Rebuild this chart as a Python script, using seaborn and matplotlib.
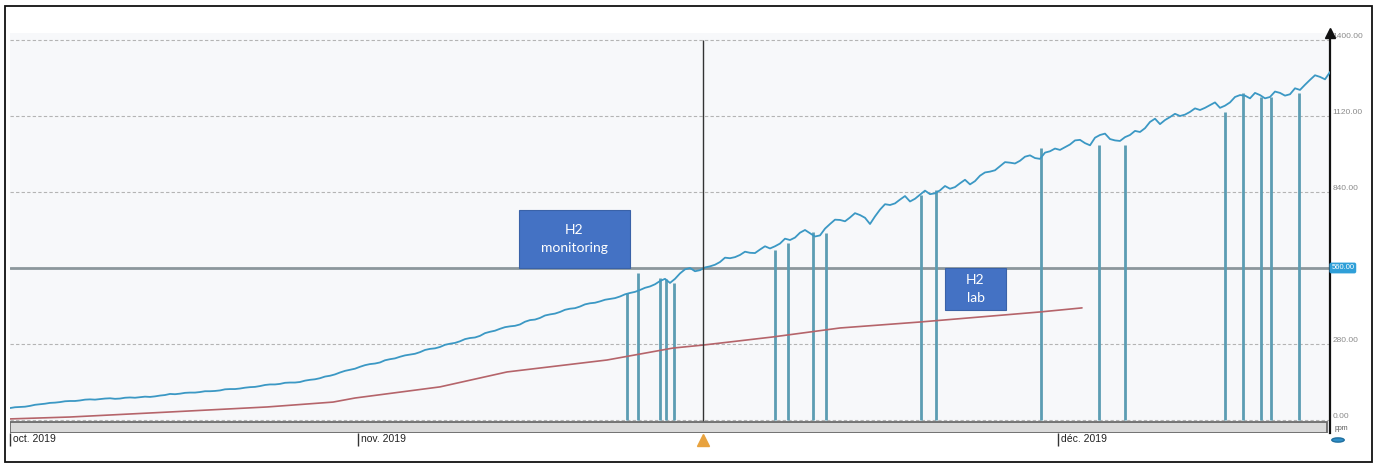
import matplotlib
matplotlib.use("Agg")
import matplotlib.pyplot as plt
import matplotlib.patches as mpatches
from matplotlib.transforms import ScaledTranslation
import numpy as np
import pandas as pd
import seaborn as sns

# ---------------- data (time axis in arbitrary units, values in ppm) ----------------
# H2 monitoring, readings on the 10-unit grid
monitor_t_a = list(range(0, 1330, 10))
monitor_ppm_a = [44, 48, 52, 58, 63, 66, 70, 72, 76, 77, 80, 79, 83, 84, 85, 90, 96, 97, 101, 103,
                 106, 109, 114, 116, 121, 125, 131, 133, 138, 140, 148, 154, 163, 175, 185, 196, 206,
                 212, 224, 233, 241, 250, 262, 269, 281, 290, 302, 310, 325, 336, 345, 352, 368, 376,
                 389, 398, 410, 418, 430, 437, 446, 455, 468, 479, 492, 512, 505, 540, 560, 552, 566,
                 582, 596, 608, 616, 628, 632, 650, 663, 690, 688, 680, 722, 737, 746, 755, 722, 775,
                 792, 812, 805, 830, 832, 846, 852, 872, 868, 900, 915, 935, 948, 955, 975, 962, 990,
                 995, 1015, 1032, 1012, 1050, 1035, 1028, 1050, 1061, 1098, 1090, 1116, 1120, 1135,
                 1142, 1160, 1150, 1170, 1197, 1185, 1197, 1190, 1205, 1200, 1216, 1253, 1264, 1282]
# H2 monitoring, readings in between
monitor_t_b = list(range(5, 1320, 10))
monitor_ppm_b = [47, 49, 56, 60, 64, 69, 70, 75, 75, 79, 78, 82, 82, 86, 87, 92, 95, 100, 101, 106,
                 107, 113, 114, 119, 122, 129, 131, 137, 138, 145, 150, 160, 168, 181, 189, 202, 208,
                 220, 227, 238, 244, 258, 264, 277, 284, 298, 304, 320, 329, 342, 347, 362, 370, 385,
                 392, 406, 412, 426, 432, 443, 449, 463, 472, 487, 500, 520, 520, 555, 548, 562, 572,
                 598, 600, 620, 615, 640, 640, 668, 672, 700, 676, 705, 738, 732, 762, 745, 750, 795,
                 798, 825, 815, 845, 835, 862, 858, 885, 880, 912, 920, 950, 945, 970, 965, 985, 1000,
                 1005, 1030, 1020, 1040, 1055, 1030, 1042, 1065, 1075, 1110, 1105, 1128, 1125, 1148,
                 1150, 1170, 1158, 1190, 1195, 1205, 1185, 1210, 1195, 1222, 1235, 1270, 1255]

lab_t = [0, 60, 157, 257, 323, 345, 430, 497, 597, 663, 693, 763, 830, 910, 1030, 1072]
lab_ppm = [4, 11, 29, 48, 66, 81, 122, 177, 221, 265, 276, 306, 339, 361, 398, 413]

drop_t = [617, 628, 650, 656, 664, 765, 778, 803, 816, 911, 926, 1031, 1089, 1115, 1215, 1233,
          1251, 1261, 1289]
drop_top = [468, 541, 523, 519, 505, 626, 652, 693, 689, 829, 847, 1002, 1013, 1013, 1135, 1205,
            1190, 1190, 1205]

y_ticks = [0, 280, 560, 840, 1120, 1400]
y_tick_labels = ["0.00", "280.00", "", "840.00", "1120.00", "1400.00"]
x_ticks = [0, 348, 1048]
x_tick_labels = ["oct. 2019", "nov. 2019", "déc. 2019"]
threshold_ppm = 560
threshold_label = "560.00"
cursor_t = 693

df_mon = pd.DataFrame({"t": monitor_t_a + monitor_t_b,
                       "ppm": monitor_ppm_a + monitor_ppm_b}).sort_values("t")
df_lab = pd.DataFrame({"t": lab_t, "ppm": lab_ppm})

# ---------------- figure ----------------
sns.set_theme(style="white")
plt.rcParams["font.family"] = ["Liberation Sans", "DejaVu Sans"]

W, H = 1379, 468
fig = plt.figure(figsize=(W / 100, H / 100), dpi=100, facecolor="white")
ax = fig.add_axes([10 / W, 1 - 433 / H, 1320 / W, 400 / H])
ax.set_facecolor("#f7f8fa")

ax.set_xlim(0, 1320)
ax.set_ylim(-47.9, 1425.7)

# gridlines
for v in y_ticks:
    ax.axhline(v, color="#b4b4b4", lw=0.8, ls=(0, (3, 2)), zorder=1)
ax.axhline(threshold_ppm, color="#8c979c", lw=2.0, zorder=2)

# drop lines (gaps to zero)
ax.vlines(drop_t, 0, drop_top, color="#5c9db3", lw=2.0, zorder=3)

sns.lineplot(data=df_lab, x="t", y="ppm", ax=ax, color="#b5646a", lw=1.2, zorder=4)
sns.lineplot(data=df_mon, x="t", y="ppm", ax=ax, color="#3b98c4", lw=1.3, zorder=5,
             estimator=None, sort=False)

# cursor
ax.vlines([cursor_t], -47.9, 1400, color="#333333", lw=1.0, zorder=6)
ax.plot([cursor_t], [-74], marker="^", ms=8, color="#e8a23e", clip_on=False, zorder=7)

# scroll bar at bottom
ax.add_patch(mpatches.Rectangle((0, 0), 0.9977, 0.0275, transform=ax.transAxes,
                                facecolor="#dadada", edgecolor="#6a6a6a", lw=1.3, zorder=6))

# spines
for s in ["top", "left", "bottom"]:
    ax.spines[s].set_visible(False)
ax.spines["right"].set_color("#111111")
ax.spines["right"].set_linewidth(1.6)
ax.plot([1], [1], marker="^", ms=7, color="#111111", transform=ax.transAxes, clip_on=False)

# y ticks on right
ax.yaxis.tick_right()
ax.set_yticks(y_ticks)
ax.set_yticklabels(y_tick_labels)
ax.tick_params(axis="y", length=0, pad=2, labelsize=6, labelcolor="#8a8a8a")
for lbl in ax.get_yticklabels():
    lbl.set_va("bottom")

# x ticks
ax.set_xticks(x_ticks)
ax.set_xticklabels(x_tick_labels)
ax.tick_params(axis="x", length=9, width=1, color="#333333", direction="out", pad=-8,
               labelsize=7.5, labelcolor="#222222", bottom=True)
for lbl in ax.get_xticklabels():
    lbl.set_ha("left")
    lbl.set_transform(lbl.get_transform() + ScaledTranslation(2 / 72, 0, fig.dpi_scale_trans))
ax.set_xlabel("")
ax.set_ylabel("")

# current value tag on right axis
ax.text(1.001, threshold_ppm, threshold_label, transform=ax.get_yaxis_transform(), ha="left",
        va="center", fontsize=5.5, color="white", zorder=8,
        bbox=dict(boxstyle="round,pad=0.25", facecolor="#2f9fd8", edgecolor="none"))

# annotation boxes
def label_box(x0, y0, x1, y1, text):
    fig.patches.append(mpatches.Rectangle((x0 / W, 1 - y1 / H), (x1 - x0) / W, (y1 - y0) / H,
                                          transform=fig.transFigure, facecolor="#4472c4",
                                          edgecolor="#3a62a8", lw=0.8, zorder=10))
    fig.text((x0 + x1) / 2 / W, 1 - (y0 + y1) / 2 / H, text, ha="center", va="center",
             color="white", fontsize=10, linespacing=1.55, family=["Lato", "DejaVu Sans"],
             zorder=11)

label_box(519, 210, 630, 268, "H2\nmonitoring")
label_box(945, 268, 1006, 310, "H2\nlab")

# unit label and blue knob
fig.text(1335 / W, 1 - 428 / H, "ppm", fontsize=5, color="#555555", va="center", ha="left")
fig.patches.append(mpatches.Circle((1338 / W, 1 - 440 / H), 0.0045, transform=fig.transFigure,
                                   facecolor="#2f8fc8", edgecolor="#1f6f9f", zorder=10))

# outer frame
fig.patches.append(mpatches.Rectangle((5 / W, 1 - 462 / H), 1367 / W, 456 / H,
                                      transform=fig.transFigure, fill=False,
                                      edgecolor="#111111", lw=1.3, zorder=12))

fig.savefig("out.png", dpi=100, facecolor="white")
